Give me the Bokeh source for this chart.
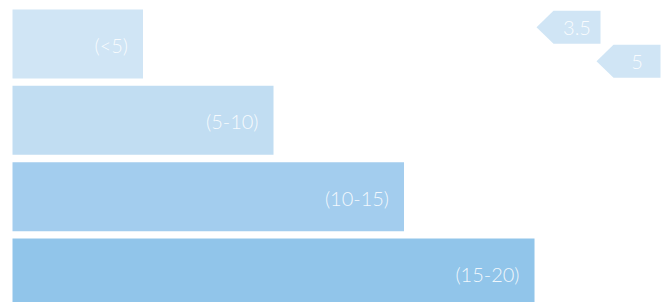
from bokeh.plotting import figure
from bokeh.models import Range1d, ColumnDataSource
from bokeh.core.properties import value
from bokeh.embed import file_html
from bokeh.resources import INLINE

# data
categories = ["(<5)", "(5-10)", "(10-15)", "(15-20)"]
bar_values = [5, 10, 15, 20]
bar_colors = ["#d0e5f5", "#c1ddf2", "#a3cdee", "#91c5ea"]
marker_values = [3.5, 5]
marker_labels = ["3.5", "5"]
marker_color = "#d0e5f5"

FONT = value("Lato Light")

p = figure(width=664, height=302, output_backend="svg", toolbar_location=None,
           x_range=Range1d(-0.46, 24.98), y_range=Range1d(3.387, -0.570),
           min_border=0, min_border_left=0, min_border_right=0,
           min_border_top=0, min_border_bottom=0)
p.outline_line_color = None
p.xaxis.visible = False
p.yaxis.visible = False
p.xgrid.visible = False
p.ygrid.visible = False
p.background_fill_color = "white"

ys = list(range(len(categories)))
src = ColumnDataSource(dict(y=ys, right=bar_values, color=bar_colors, label=categories))
p.hbar(y="y", left=0, right="right", height=0.904, fill_color="color", line_color=None, source=src)
p.text(x="right", y="y", text="label", source=src, x_offset=-15, y_offset=1, text_align="right",
       text_baseline="middle", text_color="white", text_alpha=0.88,
       text_font=FONT, text_font_size="20px")

# markers on a secondary scale
p.extra_x_ranges = {"m": Range1d(-9.9, 6.7)}
px = 40.0  # pixels per unit on marker scale
w = 64 / px
pt = 17 / px
hh = 0.216
mys = [-0.22, 0.225]
xs, yss = [], []
for v, my in zip(marker_values, mys):
    xs.append([v, v + pt, v + w, v + w, v + pt])
    yss.append([my, my - hh, my - hh, my + hh, my + hh])
p.patches(xs=xs, ys=yss, x_range_name="m", fill_color=marker_color, line_color=None)
msrc = ColumnDataSource(dict(x=marker_values, y=mys, t=marker_labels))
p.text(x="x", y="y", text="t", source=msrc, x_range_name="m", x_offset=40.5, y_offset=1,
       text_align="center", text_baseline="middle", text_color="white", text_alpha=0.9,
       text_font=FONT, text_font_size="20px")

open("out.html", "w").write(file_html(p, INLINE))
